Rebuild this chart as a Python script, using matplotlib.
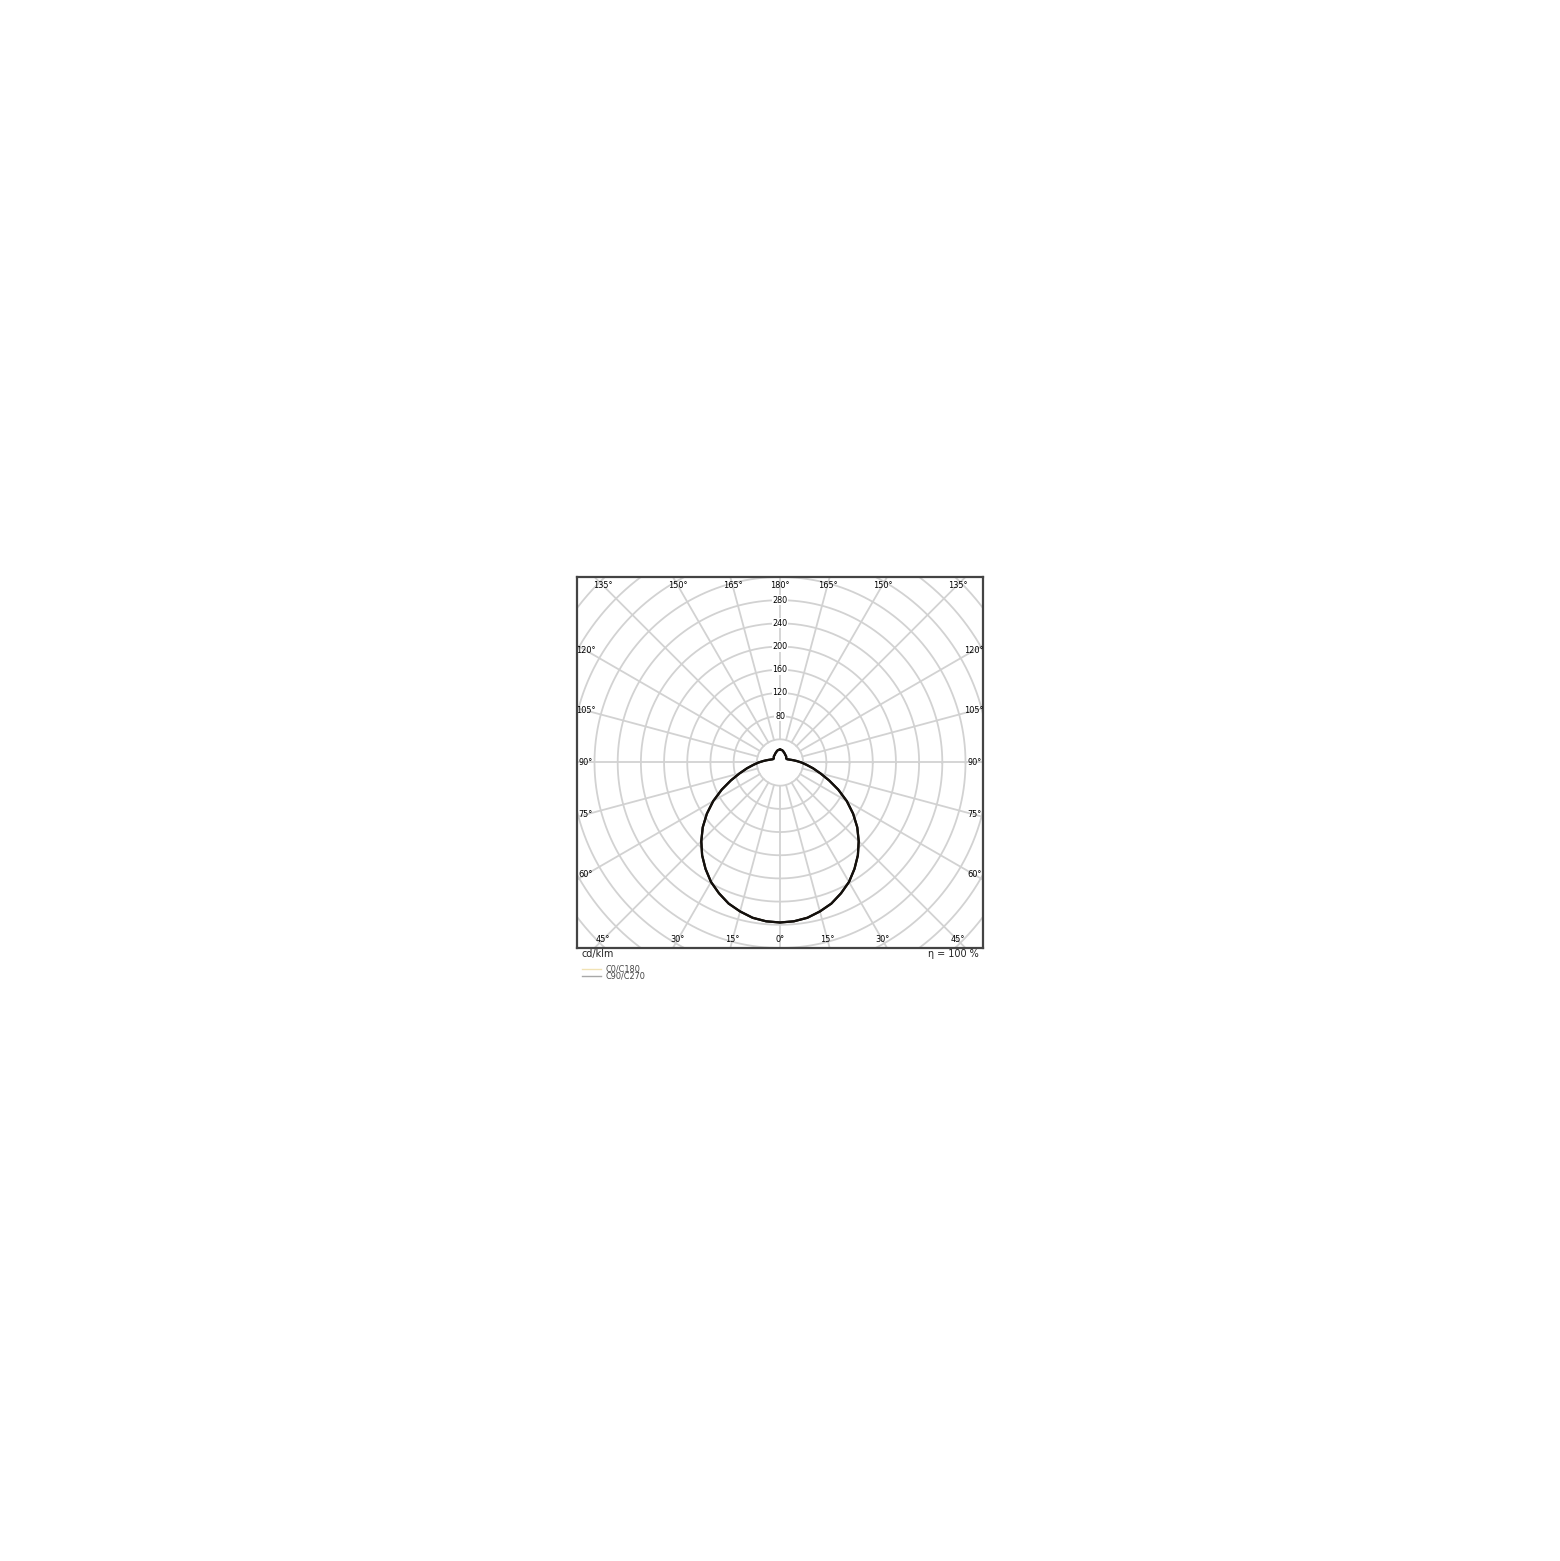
import matplotlib
matplotlib.use("Agg")
import matplotlib.pyplot as plt
import numpy as np

# luminous intensity distribution, cd/klm, gamma measured from nadir
GAMMA = np.arange(0, 181, 5)
I_C0 = [276, 275, 272, 266, 259, 249, 238, 224, 209, 192, 174, 154, 133, 111,
        90, 72, 58, 46, 37, 29, 23, 18.5, 15.5, 13.5, 12.8, 13, 14, 15, 15.5,
        16, 17, 18, 19, 20.5, 21.5, 22, 22]
I_C90 = list(I_C0)

RING_VALUES = [80, 120, 160, 200, 240, 280]
TOP_ANGLES = [135, 150, 165, 180, 165, 150, 135]
BOTTOM_ANGLES = [45, 30, 15, 0, 15, 30, 45]
SIDE_ANGLES = [120, 105, 90, 75, 60]

GRID = "#d2d2d2"
LINE = "#14100c"

fig = plt.figure(figsize=(15.6, 15.61), dpi=100)
ax = fig.add_axes([577 / 1560, 1 - 948 / 1561, 406 / 1560, 371 / 1561])
ax.set_xlim(-350, 350)
ax.set_ylim(-320, 320)
ax.set_aspect("equal", adjustable="box")
ax.set_xticks([]); ax.set_yticks([])
for s in ax.spines.values():
    s.set_edgecolor("#444444")
    s.set_linewidth(1.6)

# polar grid
t = np.linspace(0, 2 * np.pi, 400)
for r in range(40, 520, 40):
    ax.plot(r * np.cos(t), r * np.sin(t), color=GRID, lw=1.3, zorder=1)
for a in np.arange(0, 360, 15):
    th = np.radians(a)
    ax.plot([40 * np.sin(th), 600 * np.sin(th)],
            [-40 * np.cos(th), -600 * np.cos(th)], color=GRID, lw=1.3, zorder=1)

# curves (right half C0 / C90, mirrored left half C180 / C270)
g = np.radians(GAMMA)
for vals, col in ((I_C0, LINE), (I_C90, LINE)):
    v = np.asarray(vals, float)
    x = np.concatenate([-(v * np.sin(g))[::-1], (v * np.sin(g))[1:]])
    y = np.concatenate([(-v * np.cos(g))[::-1], (-v * np.cos(g))[1:]])
    ax.plot(x, y, color=col, lw=1.6, zorder=3, solid_joinstyle="round")

# ring value labels
for r in RING_VALUES:
    ax.text(0, r, str(r), ha="center", va="center", fontsize=5.8, zorder=4,
            bbox=dict(facecolor="white", edgecolor="none", pad=0.4))

# angle labels
fs = 5.9
for i, a in enumerate(TOP_ANGLES):
    sign = -1 if i < 3 else 1
    x = sign * 306 * np.tan(np.radians(180 - a))
    ax.text(x, 306, f"{a}°", ha="center", va="center", fontsize=fs, zorder=4)
for i, a in enumerate(BOTTOM_ANGLES):
    sign = -1 if i < 3 else 1
    x = sign * 306 * np.tan(np.radians(a))
    ax.text(x, -306, f"{a}°", ha="center", va="center", fontsize=fs, zorder=4)
for a in SIDE_ANGLES:
    y = -335 / np.tan(np.radians(a))
    for sx in (-335, 335):
        ax.text(sx, y, f"{a}°", ha="center", va="center", fontsize=fs,
                zorder=4, clip_on=True)

# captions and legend under the box
fig.text(581 / 1560, 1 - 954 / 1561, "cd/klm", ha="left", va="center",
         fontsize=6.9, color="#222222")
fig.text(979 / 1560, 1 - 954 / 1561, "η = 100 %", ha="right", va="center",
         fontsize=6.9, color="#222222")
for yy, col, lab in ((969, "#f1e2b4", "C0/C180"), (976, "#a8a8a8", "C90/C270")):
    fig.add_artist(plt.Line2D([582 / 1560, 601 / 1560],
                              [1 - yy / 1561, 1 - yy / 1561], color=col, lw=1.0))
    fig.text(605 / 1560, 1 - yy / 1561, lab, ha="left", va="center",
             fontsize=5.9, color="#444444")

fig.savefig("out.png", dpi=100, facecolor="white")
